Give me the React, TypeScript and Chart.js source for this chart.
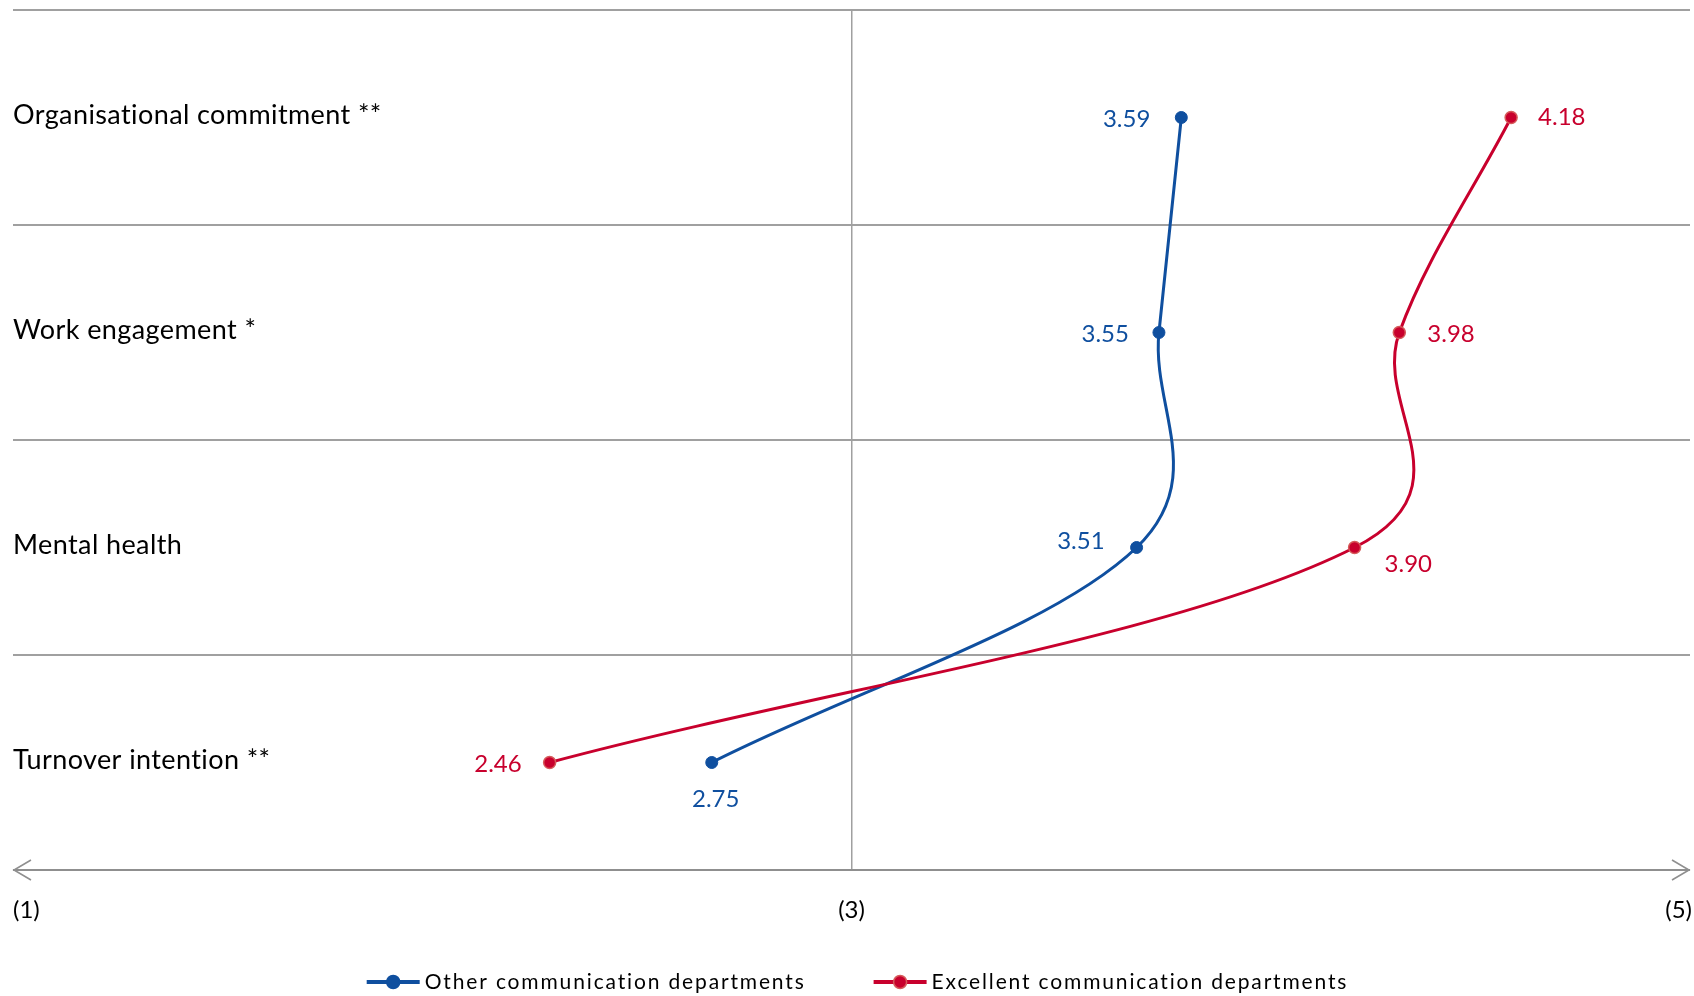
import React, { useEffect, useRef } from 'react';
import { Chart, registerables } from 'chart.js';

Chart.register(...registerables);

// ---- data ----
const categories = ['Organisational commitment **', 'Work engagement *', 'Mental health', 'Turnover intention **'];
const otherValues = [3.59, 3.55, 3.51, 2.75];
const excellentValues = [4.18, 3.98, 3.9, 2.46];
const seriesNames = ['Other communication departments', 'Excellent communication departments'];
const axisTickValues = [1.5, 3, 4.5];
const axisTickLabels = ['(1)', '(3)', '(5)'];
const xMin = 1.5;
const xMax = 4.5;

// ---- styles ----
const BLUE = '#0f4f9f';
const RED = '#c8002d';
const RED_BORDER = '#d65a5a';
const GRID = '#a0a0a0';
const AXIS = '#8f8f8f';
const FONT = 'Lato, "Open Sans", sans-serif';
const SMOOTH_T = 0.35;
const SMOOTH_K = 0.3;

type Place = { dx: number; dy: number; align: CanvasTextAlign };
const labelPlacement: Place[][] = [
  [
    { dx: -31, dy: 2, align: 'right' },
    { dx: -30, dy: 2, align: 'right' },
    { dx: -32, dy: -6, align: 'right' },
    { dx: 4, dy: 37, align: 'center' },
  ],
  [
    { dx: 27, dy: 0, align: 'left' },
    { dx: 28, dy: 2, align: 'left' },
    { dx: 30, dy: 17, align: 'left' },
    { dx: -28, dy: 2, align: 'right' },
  ],
];
const seriesColors = [BLUE, RED];
const markerBorders = [BLUE, RED_BORDER];

// Excel-like smoothing: recompute bezier control points of the library's points
const smoothPlugin = {
  id: 'smooth',
  beforeDatasetsDraw(chart: any) {
    chart.data.datasets.forEach((_: any, di: number) => {
      const meta = chart.getDatasetMeta(di);
      const line = meta.dataset;
      if (!line) return;
      line.updateControlPoints(chart.chartArea, 'y');
      const pts = meta.data;
      const n = pts.length;
      for (let i = 0; i < n; i++) {
        const cur = pts[i];
        const prev = pts[Math.max(0, i - 1)];
        const next = pts[Math.min(n - 1, i + 1)];
        const d01 = Math.hypot((cur.x - prev.x) * SMOOTH_K, cur.y - prev.y);
        const d12 = Math.hypot((next.x - cur.x) * SMOOTH_K, next.y - cur.y);
        const sum = d01 + d12 || 1;
        const fa = (SMOOTH_T * d01) / sum;
        const fb = (SMOOTH_T * d12) / sum;
        const dx = next.x - prev.x;
        const dy = next.y - prev.y;
        cur.cp1x = cur.x - fa * dx;
        cur.cp1y = cur.y - fa * dy;
        cur.cp2x = cur.x + fb * dx;
        cur.cp2y = cur.y + fb * dy;
      }
      line._pointsUpdated = true;
      line._path = undefined;
    });
  },
};

const overlayPlugin = {
  id: 'overlay',
  afterDatasetsDraw(chart: any) {
    const ctx: CanvasRenderingContext2D = chart.ctx;
    const { left, right, bottom } = chart.chartArea;
    const xs = chart.scales.x;
    const ys = chart.scales.y;
    ctx.save();

    // category labels
    ctx.font = `27px ${FONT}`;
    (ctx as any).letterSpacing = '0.4px';
    ctx.fillStyle = '#000';
    ctx.textAlign = 'left';
    ctx.textBaseline = 'middle';
    categories.forEach((c, i) => ctx.fillText(c, left, ys.getPixelForValue(i) - 2));
    (ctx as any).letterSpacing = '0px';

    // data labels
    ctx.font = `24px ${FONT}`;
    chart.data.datasets.forEach((ds: any, di: number) => {
      const meta = chart.getDatasetMeta(di);
      meta.data.forEach((pt: any, i: number) => {
        const p = labelPlacement[di][i];
        ctx.fillStyle = seriesColors[di];
        ctx.textAlign = p.align;
        ctx.fillText(Number(ds.data[i]).toFixed(2), pt.x + p.dx, pt.y + p.dy);
      });
    });

    // x axis line with open arrow heads
    ctx.strokeStyle = AXIS;
    ctx.lineWidth = 2;
    ctx.beginPath();
    ctx.moveTo(left, bottom);
    ctx.lineTo(right, bottom);
    ctx.stroke();
    ctx.lineWidth = 1.6;
    ctx.beginPath();
    ctx.moveTo(left + 18, bottom - 10);
    ctx.lineTo(left + 1, bottom);
    ctx.lineTo(left + 18, bottom + 10);
    ctx.moveTo(right - 18, bottom - 10);
    ctx.lineTo(right - 1, bottom);
    ctx.lineTo(right - 18, bottom + 10);
    ctx.stroke();

    // x tick labels
    ctx.fillStyle = '#000';
    ctx.font = `24px ${FONT}`;
    const last = axisTickValues.length - 1;
    axisTickValues.forEach((v, i) => {
      ctx.textAlign = i === 0 ? 'left' : i === last ? 'right' : 'center';
      ctx.fillText(axisTickLabels[i], xs.getPixelForValue(v) + (i === last ? 2 : 0), bottom + 40);
    });

    // legend
    ctx.font = `21px ${FONT}`;
    (ctx as any).letterSpacing = '1.85px';
    const markerW = 53;
    const gap = 5;
    const itemGap = 68;
    const widths = seriesNames.map((n) => ctx.measureText(n).width);
    const total = widths.reduce((a, w) => a + markerW + gap + w, 0) + itemGap * (seriesNames.length - 1);
    let lx = (left + right) / 2 - total / 2 + 6;
    const ly = 982;
    seriesNames.forEach((name, i) => {
      ctx.strokeStyle = seriesColors[i];
      ctx.lineWidth = 4;
      ctx.beginPath();
      ctx.moveTo(lx, ly);
      ctx.lineTo(lx + markerW, ly);
      ctx.stroke();
      ctx.beginPath();
      ctx.arc(lx + markerW / 2, ly, 6.5, 0, Math.PI * 2);
      ctx.fillStyle = seriesColors[i];
      ctx.fill();
      ctx.lineWidth = 1.5;
      ctx.strokeStyle = markerBorders[i];
      ctx.stroke();
      ctx.fillStyle = '#000';
      ctx.textAlign = 'left';
      ctx.textBaseline = 'middle';
      ctx.fillText(name, lx + markerW + gap, ly);
      lx += markerW + gap + widths[i] + itemGap;
    });
    (ctx as any).letterSpacing = '0px';
    ctx.restore();
  },
};

export default function App() {
  const canvasRef = useRef<HTMLCanvasElement | null>(null);

  useEffect(() => {
    if (!canvasRef.current) return;
    const chart = new Chart(canvasRef.current, {
      type: 'line',
      data: {
        labels: categories,
        datasets: [
          {
            label: seriesNames[0],
            data: otherValues,
            borderColor: BLUE,
            backgroundColor: BLUE,
            pointBackgroundColor: BLUE,
            pointBorderColor: BLUE,
            borderWidth: 3,
            pointRadius: 6,
            pointBorderWidth: 1,
            tension: SMOOTH_T,
            fill: false,
            clip: false,
            order: 1,
          },
          {
            label: seriesNames[1],
            data: excellentValues,
            borderColor: RED,
            backgroundColor: RED,
            pointBackgroundColor: RED,
            pointBorderColor: RED_BORDER,
            borderWidth: 3,
            pointRadius: 6,
            pointBorderWidth: 1.5,
            tension: SMOOTH_T,
            fill: false,
            clip: false,
            order: 0,
          },
        ],
      },
      options: {
        indexAxis: 'y',
        animation: false,
        responsive: true,
        maintainAspectRatio: false,
        devicePixelRatio: 1,
        layout: { autoPadding: false, padding: { left: 13, right: 4, top: 10, bottom: 126 } },
        plugins: {
          legend: { display: false },
          tooltip: { enabled: false },
        },
        scales: {
          x: {
            type: 'linear',
            min: xMin,
            max: xMax,
            afterBuildTicks: (scale: any) => {
              scale.ticks = axisTickValues.map((v) => ({ value: v }));
            },
            afterFit: (scale: any) => {
              scale.paddingLeft = 0;
              scale.paddingRight = 0;
              scale.height = 0;
            },
            ticks: { display: false },
            border: { display: false },
            grid: {
              drawTicks: false,
              lineWidth: 1.5,
              color: (c: any) => (c.tick && c.tick.value === 3 ? GRID : 'rgba(0,0,0,0)'),
            },
          },
          y: {
            type: 'category',
            offset: true,
            afterFit: (scale: any) => {
              scale.paddingTop = 0;
              scale.paddingBottom = 0;
              scale.width = 0;
            },
            ticks: { display: false },
            border: { display: false },
            grid: {
              offset: true,
              drawTicks: false,
              lineWidth: 2,
              color: GRID,
            },
          },
        },
      },
      plugins: [smoothPlugin, overlayPlugin],
    } as any);
    return () => chart.destroy();
  }, []);

  return (
    <div style={{ position: 'absolute', left: 0, top: 0, width: '1694px', height: '996px', background: '#fff' }}>
      <canvas ref={canvasRef} />
    </div>
  );
}
